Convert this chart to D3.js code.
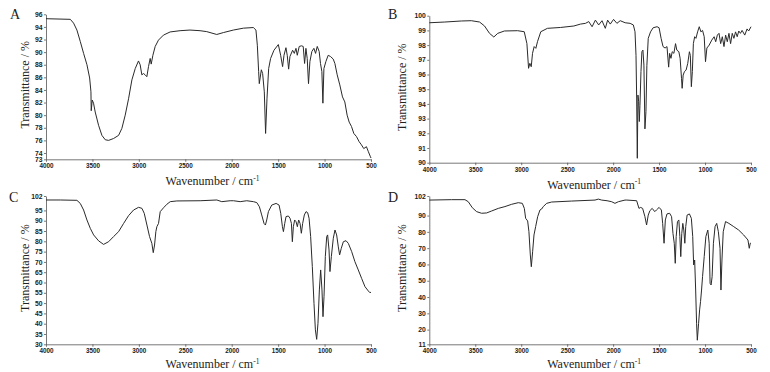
<!DOCTYPE html>
<html>
<head>
<meta charset="utf-8">
<script src="https://cdn.jsdelivr.net/npm/d3@7"></script>
<style>
  body { margin: 0; background: #fff; }
  svg { display: block; }
  .tick text { font-family: "Liberation Sans", Arial, sans-serif; font-weight: bold; fill: #222; }
  .title { font-family: "Liberation Serif", "Times New Roman", serif; fill: #222; }
</style>
</head>
<body>
<svg id="chart" width="770" height="372"></svg>
<script>
// x ticks shared by all four spectra
var waveTicks = [4000, 3500, 3000, 2500, 2000, 1500, 1000, 500];

// y ticks of each panel
var ticksA = [73, 74, 76, 78, 80, 82, 84, 86, 88, 90, 92, 94, 96];
var ticksB = [90, 91, 92, 93, 94, 95, 96, 97, 98, 99, 100];
var ticksC = [30, 35, 40, 45, 50, 55, 60, 65, 70, 75, 80, 85, 90, 95, 102];
var ticksD = [11, 20, 30, 40, 50, 60, 70, 80, 90, 102];

// [wavenumber, transmittance]
var spectrumA = [[4000,95.3],[3738,95.2],[3703,94.6],[3667,93.5],[3631,91.7],[3595,89.8],[3559,88],[3530,85.9],[3516,83.7],[3513,80.7],[3502,82.4],[3488,81.9],[3470,80.5],[3434,78.4],[3398,76.8],[3362,76.1],[3326,76.0],[3272,76.3],[3218,76.8],[3183,77.9],[3147,80],[3111,82.6],[3075,85.6],[3039,87.4],[3004,88.6],[2986,88],[2968,86.4],[2950,86.6],[2932,86.4],[2914,86.1],[2896,87.7],[2878,89.0],[2867,88.1],[2849,89.5],[2824,90.9],[2789,91.9],[2735,92.7],[2663,93.2],[2556,93.4],[2450,93.5],[2341,93.4],[2269,93.25],[2161,92.8],[2090,93.1],[1982,93.5],[1874,93.8],[1767,93.9],[1739,93.5],[1724,91.1],[1710,86.9],[1703,85.0],[1681,87.2],[1667,86.6],[1649,83.7],[1635,77.1],[1620,82.7],[1602,87.4],[1581,89.0],[1545,90.3],[1498,91.2],[1473,89.5],[1452,87.7],[1437,89.5],[1416,90.7],[1402,89.5],[1387,87.3],[1373,89.3],[1344,90.3],[1326,89.8],[1308,90.6],[1294,89.5],[1273,90.9],[1248,91.0],[1230,90.9],[1215,88.2],[1201,90.6],[1187,89],[1173,85.0],[1158,88.5],[1137,90.1],[1115,90.6],[1097,89.8],[1079,90.9],[1058,90.1],[1044,88.2],[1029,86.9],[1018,81.9],[1007,87.4],[986,88.5],[961,89.5],[936,89.3],[907,88.9],[889,88.2],[864,86.4],[836,84.8],[807,82.9],[782,82.1],[757,80.0],[735,78.9],[710,78.2],[685,77.1],[656,76.6],[628,75.8],[603,75.3],[578,74.7],[549,75.0],[528,74.2],[506,73.4],[500,73.2]];

var spectrumB = [[4000,99.52],[3831,99.57],[3651,99.64],[3543,99.66],[3453,99.57],[3399,99.3],[3345,98.8],[3298,98.55],[3255,98.8],[3183,98.96],[3039,98.98],[2967,98.91],[2938,98.1],[2920,96.42],[2906,96.76],[2891,96.53],[2877,97.44],[2859,97.9],[2841,97.78],[2823,98.23],[2787,98.91],[2715,99.14],[2571,99.2],[2427,99.3],[2355,99.43],[2301,99.48],[2265,99.6],[2229,99.25],[2193,99.7],[2157,99.37],[2121,99.66],[2085,99.14],[2060,99.7],[2031,99.43],[1995,99.75],[1959,99.48],[1923,99.66],[1869,99.52],[1815,99.48],[1780,99.37],[1762,98.91],[1751,97.3],[1744,94.4],[1737,90.3],[1730,94.6],[1722,94.15],[1715,92.8],[1708,93.9],[1697,96.2],[1687,97.55],[1676,97.66],[1665,96.64],[1654,92.3],[1643,93.47],[1633,96.6],[1618,98.46],[1593,98.9],[1565,99.18],[1522,99.25],[1500,99.18],[1478,98.46],[1457,97.9],[1435,97.8],[1414,97.9],[1396,96.5],[1385,97.44],[1371,97.1],[1357,97.55],[1339,97.44],[1321,98.1],[1307,97.66],[1285,97.55],[1271,97.1],[1256,95.74],[1249,95.06],[1238,95.96],[1224,96.2],[1206,96.3],[1188,96.76],[1170,97.55],[1160,97.3],[1149,95.17],[1138,96.2],[1127,98.1],[1113,98.57],[1099,98.46],[1081,98.9],[1063,99.25],[1045,98.9],[1027,99.0],[1009,98.57],[995,96.87],[980,97.8],[955,98.0],[927,98.34],[901,98.57],[884,98.23],[866,98.68],[848,98.8],[830,98.1],[812,98.57],[794,97.9],[776,98.68],[758,98.23],[740,98.8],[722,98.1],[704,98.8],[686,98.46],[668,98.9],[650,98.57],[633,98.96],[615,98.8],[597,99.0],[568,98.68],[543,99.1],[525,98.96],[500,99.25]];

var spectrumC = [[4000,100.06],[3846,100.06],[3667,99.9],[3631,98.4],[3595,95.2],[3559,90.35],[3523,86.3],[3487,83.1],[3433,80.2],[3380,78.5],[3326,79.8],[3272,82.3],[3218,84.7],[3164,88.7],[3111,92.45],[3057,95.2],[3003,96.5],[2967,96.0],[2942,93.6],[2913,87.9],[2885,82.3],[2860,79.0],[2845,74.5],[2831,78.2],[2817,84.7],[2806,87.1],[2788,88.7],[2770,94.4],[2734,96.3],[2698,98.0],[2662,99.25],[2591,99.6],[2340,99.7],[2160,100.06],[2107,99.25],[2017,99.7],[1981,99.7],[1909,99.25],[1838,99.7],[1766,99.25],[1730,98.8],[1702,96.8],[1677,92.8],[1652,88.7],[1637,87.9],[1623,90.35],[1605,94.4],[1569,97.6],[1522,98.4],[1490,97.6],[1472,93.6],[1454,87.1],[1443,84.7],[1429,88.7],[1415,92],[1390,92.3],[1372,91.2],[1357,88.7],[1347,79.8],[1336,87.1],[1322,90.35],[1307,89.5],[1293,87.1],[1279,90.35],[1264,88.7],[1250,83.9],[1236,88.7],[1218,92.8],[1200,94.4],[1182,93.9],[1167,91.2],[1150,82.3],[1132,67.7],[1114,49.9],[1099,37],[1085,32.4],[1071,40.2],[1056,56.4],[1042,66.1],[1028,56.4],[1017,43.4],[1006,53.1],[992,72.6],[977,82.3],[967,83.1],[952,75.8],[942,65.3],[927,72.6],[906,81.5],[888,85.5],[870,83.1],[852,77.3],[838,73.4],[820,76.6],[798,79.8],[769,80.3],[744,79.0],[708,75.0],[673,70.1],[637,66.1],[601,62.0],[565,58.0],[529,55.9],[510,55.0],[500,55.4]];

var spectrumD = [[4000,99.5],[3757,99.75],[3612,99.75],[3576,98.5],[3532,94.8],[3485,92.4],[3431,91.4],[3376,91.6],[3322,92.8],[3249,94.4],[3177,95.5],[3104,96.9],[3032,97.9],[2988,97.5],[2966,94.4],[2952,88.3],[2930,86.7],[2916,80.1],[2901,65.8],[2890,58.6],[2876,67.8],[2861,78.1],[2843,83.2],[2821,89.3],[2796,93.4],[2778,94.0],[2760,95.5],[2723,97.5],[2669,98.3],[2451,98.9],[2197,99.5],[2161,100.1],[2125,99.5],[2066,99.1],[2016,98.5],[1980,97.5],[1943,98.5],[1871,99.5],[1851,99.5],[1744,99.1],[1719,94.4],[1701,95.0],[1679,94.4],[1654,89.3],[1636,84.2],[1618,90.3],[1600,93.0],[1575,94.4],[1547,92.4],[1529,93.4],[1500,95.0],[1475,93.4],[1461,85.2],[1446,73.0],[1432,87.3],[1414,91.0],[1385,91.4],[1364,89.3],[1349,79.1],[1335,73.0],[1324,60.7],[1314,77.1],[1300,86.3],[1285,87.3],[1274,77.1],[1264,64.8],[1253,79.1],[1242,85.2],[1231,81.1],[1220,73.0],[1210,83.2],[1195,90.3],[1170,91.0],[1149,88.3],[1134,77.1],[1124,59.7],[1113,62.7],[1102,44.3],[1092,23.9],[1084,13.5],[1070,23.9],[1059,32.1],[1049,37.2],[1038,44.3],[1027,52.5],[1009,64.8],[991,77.1],[970,81.1],[955,73],[945,48.4],[934,47.4],[923,52.5],[909,73],[891,83.2],[873,85.2],[855,80.1],[837,69.9],[827,44.3],[816,62.7],[802,80.1],[777,86.3],[741,85.2],[688,83.2],[634,81.1],[580,78.1],[533,75.0],[519,69.9],[508,73],[500,73]];

var svg = d3.select("#chart");

// layout of the 2x2 grid (plot box in pixels, plus where the titles sit)
var panels = [
  { label: "A", data: spectrumA, ticks: ticksA, x0: 46,    x1: 371, y0: 14.3, y1: 159.3, yTitleX: 29,  labelX: 10,  labelY: 19 },
  { label: "B", data: spectrumB, ticks: ticksB, x0: 429.3, x1: 751, y0: 15.7, y1: 162.7, yTitleX: 406, labelX: 388, labelY: 19 },
  { label: "C", data: spectrumC, ticks: ticksC, x0: 46,    x1: 371, y0: 196,  y1: 344.3, yTitleX: 29,  labelX: 9,   labelY: 201.5 },
  { label: "D", data: spectrumD, ticks: ticksD, x0: 429.3, x1: 751, y0: 196,  y1: 344.3, yTitleX: 406, labelX: 388, labelY: 201.5 }
];

panels.forEach(function(p) {
  var x = d3.scaleLinear().domain([4000, 500]).range([p.x0, p.x1]);
  var y = d3.scaleLinear().domain(d3.extent(p.ticks)).range([p.y1, p.y0]);

  var g = svg.append("g");

  // axes
  var xAxis = d3.axisBottom(x).tickValues(waveTicks).tickSize(2.5).tickSizeOuter(0).tickPadding(2)
    .tickFormat(d3.format("d"));
  var yAxis = d3.axisLeft(y).tickValues(p.ticks).tickSize(2).tickSizeOuter(0).tickPadding(1.5)
    .tickFormat(d3.format("d"));

  var gx = g.append("g").attr("transform", "translate(0," + p.y1 + ")").call(xAxis);
  var gy = g.append("g").attr("transform", "translate(" + p.x0 + ",0)").call(yAxis);

  gx.selectAll("text").style("font-size", "6.3px");
  gy.selectAll("text").style("font-size", "6.8px");
  [gx, gy].forEach(function(a) {
    a.select(".domain").attr("stroke", "#555").attr("stroke-width", 0.8);
    a.selectAll(".tick line").attr("stroke", "#555").attr("stroke-width", 0.8);
  });

  // spectrum
  var line = d3.line()
    .x(function(d) { return x(d[0]); })
    .y(function(d) { return y(d[1]); });

  g.append("path")
    .datum(p.data)
    .attr("d", line)
    .attr("fill", "none")
    .attr("stroke", "#2a2a2a")
    .attr("stroke-width", 1)
    .attr("stroke-linejoin", "round");

  // panel letter
  g.append("text")
    .attr("class", "title")
    .attr("x", p.labelX)
    .attr("y", p.labelY)
    .style("font-size", "14px")
    .text(p.label);

  // x title with superscript
  var xt = g.append("text")
    .attr("class", "title")
    .attr("x", (p.x0 + p.x1) / 2 + 4)
    .attr("y", Math.min(p.y1 + 26, 368))
    .attr("text-anchor", "middle")
    .style("font-size", "12px");
  xt.append("tspan").text("Wavenumber / cm");
  xt.append("tspan").attr("dy", -4.5).style("font-size", "7.5px").text("-1");

  // y title
  g.append("text")
    .attr("class", "title")
    .attr("transform", "translate(" + p.yTitleX + "," + ((p.y0 + p.y1) / 2 - 2) + ") rotate(-90)")
    .attr("text-anchor", "middle")
    .style("font-size", "12px")
    .text("Transmittance / %");
});
</script>
</body>
</html>
